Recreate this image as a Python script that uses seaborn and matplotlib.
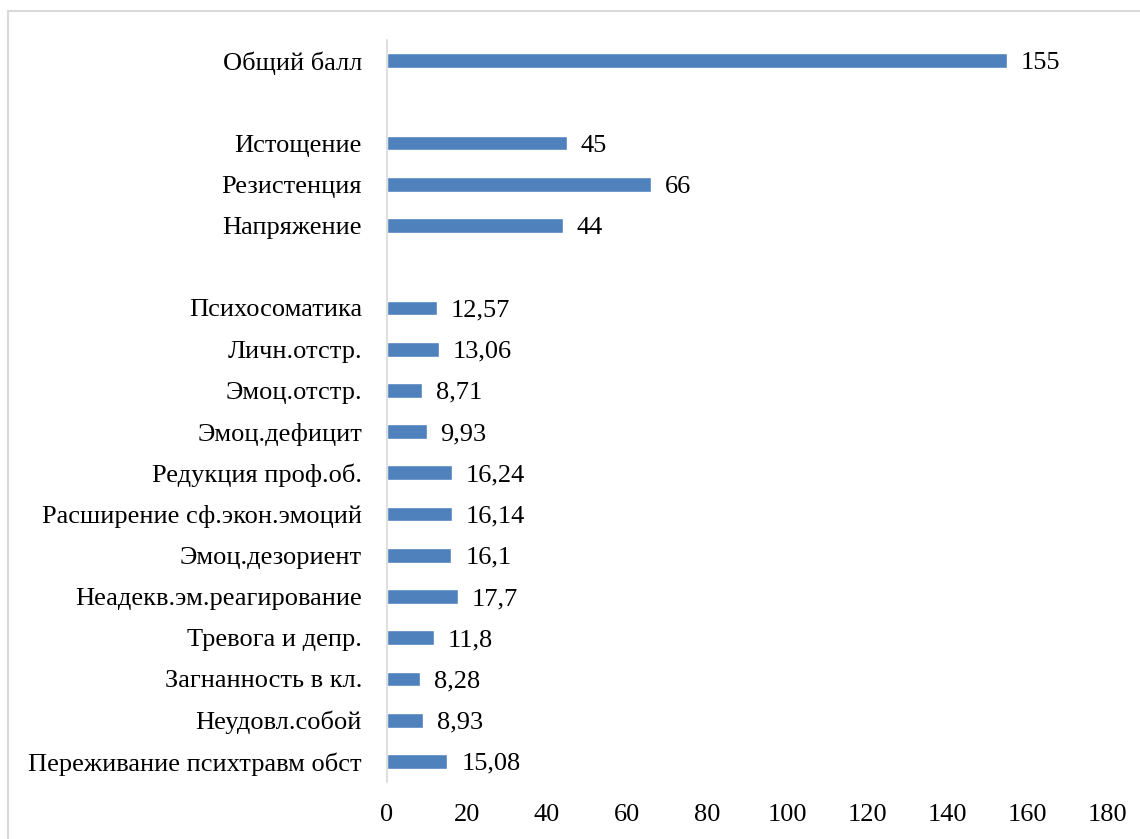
import matplotlib
matplotlib.use("Agg")
import matplotlib.pyplot as plt
import seaborn as sns
import pandas as pd
import numpy as np
from matplotlib.patches import Rectangle

categories = ["Общий балл", " ", "Истощение", "Резистенция", "Напряжение", "  ",
              "Психосоматика", "Личн.отстр.", "Эмоц.отстр.", "Эмоц.дефицит",
              "Редукция проф.об.", "Расширение сф.экон.эмоций", "Эмоц.дезориент",
              "Неадекв.эм.реагирование", "Тревога и депр.", "Загнанность в кл.",
              "Неудовл.собой", "Переживание психтравм обст"]
values = [155, 0, 45, 66, 44, 0,
          12.57, 13.06, 8.71, 9.93, 16.24, 16.14, 16.1, 17.7, 11.8, 8.28, 8.93, 15.08]
value_labels = ["155", "", "45", "66", "44", "",
                "12,57", "13,06", "8,71", "9,93", "16,24", "16,14", "16,1", "17,7",
                "11,8", "8,28", "8,93", "15,08"]
xticks = [0, 20, 40, 60, 80, 100, 120, 140, 160, 180]

sns.set_theme(style="white")
plt.rcParams['font.family'] = ['Liberation Serif', 'DejaVu Serif']

df = pd.DataFrame({"cat": categories, "val": values})

fig = plt.figure(figsize=(11.4, 8.39), dpi=100)
ax = fig.add_axes([387/1140, 1 - 782/839, (1107-387)/1140, (782-40)/839])

sns.barplot(data=df, y="cat", x="val", order=categories, orient="h",
            color="#4F81BD", saturation=1, width=0.36, ax=ax, errorbar=None)

for cont in ax.containers:
    texts = ax.bar_label(cont, labels=value_labels, padding=10, fontsize=19, color="black")
    for t in texts:
        t.set_verticalalignment("center_baseline")

ax.set_xlim(0, 180)
ax.set_ylim(17.5, -0.5)
ax.set_xticks(xticks)
ax.set_xticklabels([str(t) for t in xticks], fontsize=19)
ax.tick_params(axis="y", labelsize=19, length=0, pad=18, colors="black")
ax.tick_params(axis="x", length=0, pad=16, colors="black")
ax.set_xlabel("")
ax.set_ylabel("")
for s in ["top", "right", "bottom"]:
    ax.spines[s].set_visible(False)
ax.spines["left"].set_color("#D9D9D9")
ax.spines["left"].set_linewidth(1.2)
ax.grid(False)

fig.patches.append(Rectangle((8/1140, -0.2), 1.2, 1 - 11/839 + 0.2,
                             transform=fig.transFigure, fill=False,
                             edgecolor="#D9D9D9", linewidth=1.5))

fig.savefig("out.png", dpi=100)
